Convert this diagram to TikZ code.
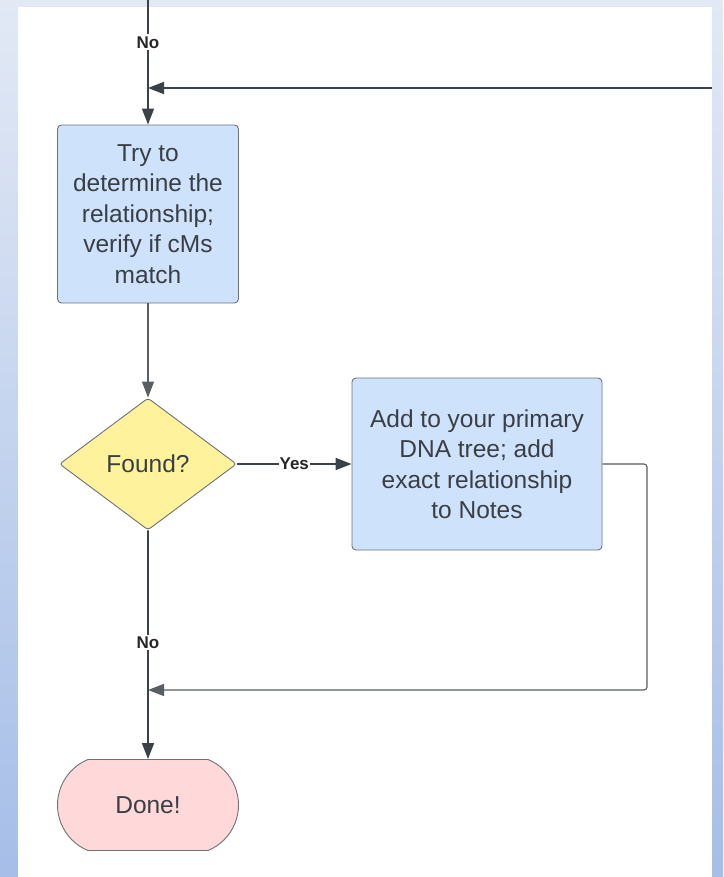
\documentclass[tikz,border=0pt]{standalone}
\usepackage{fontspec}
\setmainfont{Liberation Sans}
\usetikzlibrary{arrows.meta}
\usetikzlibrary{shapes.geometric}
\usetikzlibrary{shapes.misc}
\usetikzlibrary{positioning}
\definecolor{mbox}{HTML}{CFE2FB}
\definecolor{mdia}{HTML}{FEF39C}
\definecolor{mend}{HTML}{FFD8DA}
\definecolor{medge}{HTML}{6E7278}
\definecolor{mline}{HTML}{3B4149}
\definecolor{mtext}{HTML}{3A3F46}
\definecolor{mbgtop}{HTML}{E2E9F5}
\definecolor{mbgbot}{HTML}{A6BEE8}
\tikzset{box/.style = {draw=medge, fill=mbox, rounded corners=4pt, line width=0.9pt,
    align=center, text=mtext, font=\fontsize{24.5}{30.5}\selectfont, inner sep=0}}
\tikzset{decision/.style = {diamond, draw=medge, fill=mdia, rounded corners=3pt, line width=0.9pt,
    text=mtext, font=\fontsize{24.5}{30}\selectfont, inner sep=0,
    minimum width=177pt, minimum height=132pt}}
\tikzset{term/.style = {rounded rectangle, rounded rectangle arc length=135, draw=medge, fill=mend,
    line width=0.9pt, text=mtext, font=\fontsize{24.5}{30}\selectfont, inner sep=0,
    minimum width=181pt, minimum height=91pt}}
\tikzset{lbl/.style = {fill=white, text=black!85, font=\fontsize{17}{20}\selectfont\bfseries, inner sep=2pt}}
\tikzset{flow/.style = {draw=mline, line width=1.6pt, -{Triangle[length=16pt, width=12pt]}}}
\tikzset{thinflow/.style = {flow, draw=mline!85, line width=1.1pt}}

\begin{document}
\begin{tikzpicture}[x=1pt, y=-1pt]
    \useasboundingbox (0, 0) rectangle (723, 877);
    \shade [top color=mbgtop, bottom color=mbgbot] (0, 0) rectangle (723, 877);
    \fill [white] (18, 7) rectangle (712, 877);

    \node [box, minimum width=181pt, minimum height=178pt] (try) at (148, 214)
      {Try to\\determine the\\relationship;\\verify if cMs\\match};
    \node [decision] (found) at (148, 464) {Found?};
    \node [box, minimum width=250pt, minimum height=172pt] (notes) at (477, 464)
      {Add to your primary\\DNA tree; add\\exact relationship\\to Notes};
    \node [term] (done) at (148, 805) {Done!};

    \coordinate (top) at (148, 0);
    \coordinate (loopin) at (712, 88);
    \coordinate (join) at (148, 88);
    \coordinate (bend) at (647, 464);
    \coordinate (merge) at (148, 690);

    \draw [flow] (top) -- node [lbl, pos=0.34] {No} (try);
    \draw [flow] (loopin) -- (join);
    \draw [thinflow] (try) -- (found);
    \draw [flow] (found) -- node [lbl, inner sep=1pt] {Yes} (notes);
    \draw [flow] (found) -- node [lbl, pos=0.49] {No} (done);
    \draw [thinflow, rounded corners=3pt] (notes.east) -- (bend) |- (merge);
  \end{tikzpicture}
\end{document}
